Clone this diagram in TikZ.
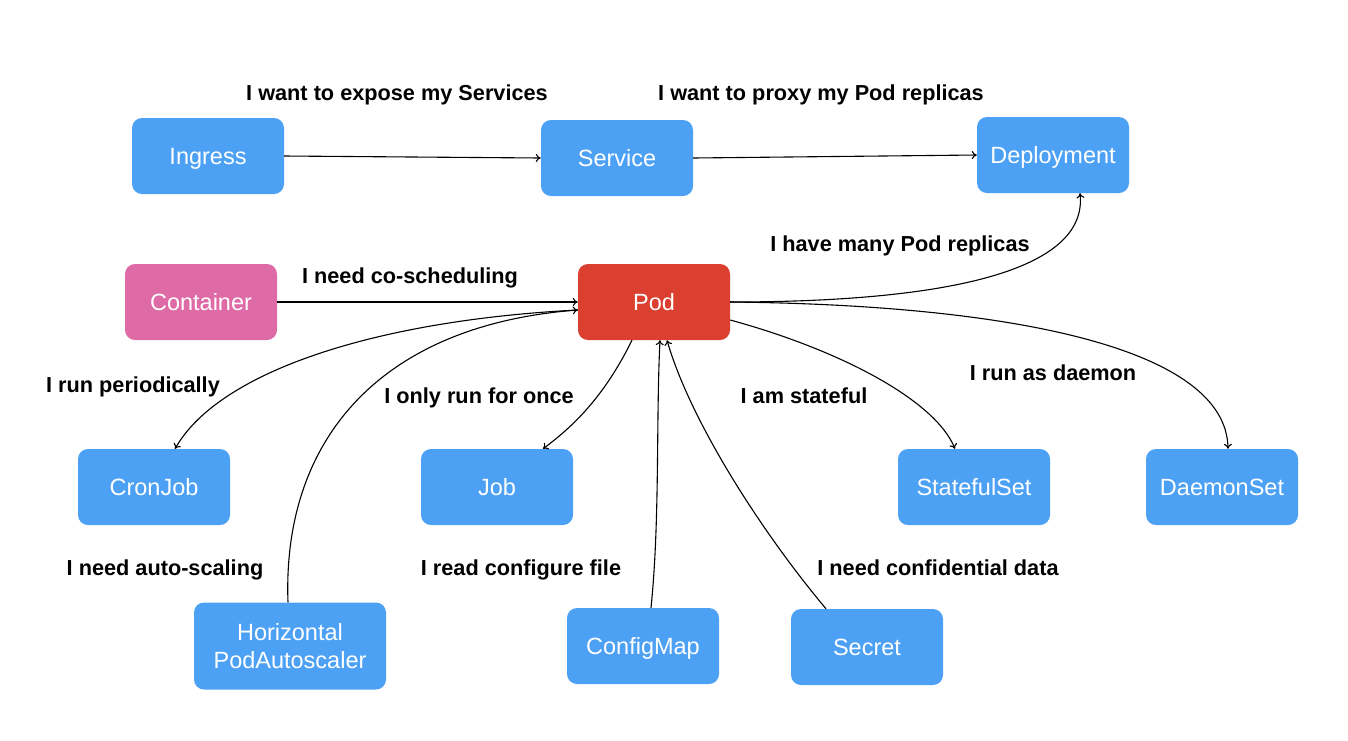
\documentclass[tikz,border=0pt]{standalone}
\usepackage{fontspec}
\setmainfont{Liberation Sans}
\usetikzlibrary{arrows.meta}
\definecolor{boxblue}{HTML}{4DA1F5}
\definecolor{boxpink}{HTML}{DE6AA6}
\definecolor{boxred}{HTML}{DA3F2F}
\begin{document}
\begin{tikzpicture}[x=1pt,y=-1pt,
  kbase/.style={rounded corners=10pt, fill=boxblue, text=white, minimum width=152pt, minimum height=76pt, inner sep=0pt, align=center, font=\fontsize{23.5}{28}\selectfont},
  kbox/.style={kbase, text height=16.8pt, text depth=0pt},
  lbl/.style={font=\bfseries\fontsize{21.7}{26}\selectfont, text=black, inner sep=0pt, text height=15.6pt, text depth=0pt},
  conn/.style={line width=1.1pt, -{To[length=5pt,width=8pt]}}
]
\useasboundingbox (0,0) rectangle (1348,740);
\fill[white] (0,0) rectangle (1348,740);
% nodes
\node[kbox] (ingress) at (208,156) {Ingress};
\node[kbox] (service) at (617,158) {Service};
\node[kbox] (deploy) at (1053,155) {Deployment};
\node[kbox, fill=boxpink] (container) at (201,302) {Container};
\node[kbox, fill=boxred] (pod) at (654,302) {Pod};
\node[kbox] (cronjob) at (154,487) {CronJob};
\node[kbox] (job) at (497,487) {Job};
\node[kbox] (sts) at (974,487) {StatefulSet};
\node[kbox] (ds) at (1222,487) {DaemonSet};
\node[kbase, minimum width=192pt, minimum height=87pt] (hpa) at (290,646) {Horizontal\\PodAutoscaler};
\node[kbox] (cm) at (643,646) {ConfigMap};
\node[kbox] (secret) at (867,647) {Secret};
% labels
\node[lbl] (l1) at (397,93) {I want to expose my Services};
\node[lbl] (l2) at (821,93) {I want to proxy my Pod replicas};
\node[lbl] (l3) at (900,244) {I have many Pod replicas};
\node[lbl] (l4) at (410,276) {I need co-scheduling};
\node[lbl] (l5) at (133,385) {I run periodically};
\node[lbl] (l6) at (479,396) {I only run for once};
\node[lbl] (l7) at (804,396) {I am stateful};
\node[lbl] (l8) at (1053,373) {I run as daemon};
\node[lbl] (l9) at (165,568) {I need auto-scaling};
\node[lbl] (l10) at (521,568) {I read configure file};
\node[lbl] (l11) at (938,568) {I need confidential data};
% coordinates on boxes
\coordinate (podE) at (pod.east);
\coordinate (podSE) at ([yshift=-18pt]pod.east);
\coordinate (podW2) at ([yshift=-8pt]pod.west);
% connectors
\draw[conn] (ingress.east) -- (service.west);
\draw[conn] (service.east) -- (deploy.west);
\draw[conn] (container.east) -- (pod.west);
\draw[conn] (podE) .. controls (950,302) and (1088,270) .. ([xshift=27pt]deploy.south);
\draw[conn] (podE) .. controls (1020,305) and (1226,350) .. ([xshift=6pt]ds.north);
\draw[conn] (podSE) .. controls (840,350) and (935,400) .. ([xshift=-19pt]sts.north);
\draw[conn] ([xshift=-22pt]pod.south) .. controls (605,395) and (575,425) .. ([xshift=46pt]job.north);
\draw[conn] (podW2) .. controls (380,320) and (220,370) .. ([xshift=21pt]cronjob.north);
\draw[conn] ([xshift=-2pt]hpa.north) .. controls (282,440) and (380,325) .. (podW2);
\draw[conn] ([xshift=8pt]cm.north) .. controls (660,520) and (656,420) .. ([xshift=6pt]pod.south);
\draw[conn] ([xshift=-41pt]secret.north) .. controls (760,530) and (690,420) .. ([xshift=13pt]pod.south);
\end{tikzpicture}
\end{document}
